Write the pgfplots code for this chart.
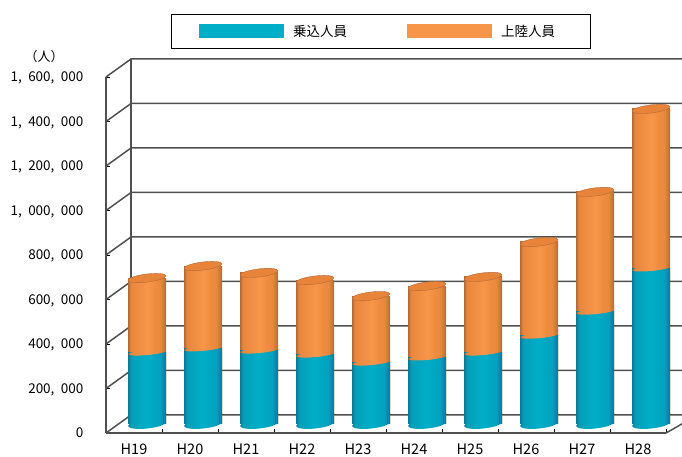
\documentclass[border=0pt]{standalone}
\usepackage{fontspec}
\setmainfont{Noto Sans CJK JP}
\usepackage{pgfplots}
\usepackage{pgfplotstable}
\pgfplotsset{compat=1.18}

\definecolor{teal1}{RGB}{0,174,200}
\definecolor{teal2}{RGB}{4,158,186}
\definecolor{teal3}{RGB}{10,120,145}
\definecolor{org1}{RGB}{247,150,72}
\definecolor{org2}{RGB}{232,135,62}
\definecolor{org3}{RGB}{180,105,55}
\definecolor{orgtop}{RGB}{232,132,58}
\definecolor{wall}{RGB}{80,80,80}

\pgfdeclarehorizontalshading{tealcyl}{100bp}{color(0bp)=(teal3); color(25bp)=(teal3); color(29bp)=(teal2); color(50bp)=(teal1); color(68bp)=(teal2); color(75bp)=(teal3); color(100bp)=(teal3)}
\pgfdeclarehorizontalshading{orgcyl}{100bp}{color(0bp)=(org3); color(25bp)=(org3); color(29bp)=(org2); color(50bp)=(org1); color(68bp)=(org2); color(75bp)=(org3); color(100bp)=(org3)}

\pgfplotstableread{
x teal orange
0.5 321000 335000
1.5 340000 370000
2.5 330000 349000
3.5 312000 335000
4.5 276000 299000
5.5 299000 321000
6.5 321000 340000
7.5 397000 421000
8.5 505000 538000
9.5 699000 717000
}\cruise

% tilted ellipses, rising to the right
\pgfdeclareplotmark{capteal}{\pgfpathellipse{\pgfpointorigin}{\pgfpoint{18.9pt}{2pt}}{\pgfpoint{-0.5pt}{4.5pt}}\pgfshadepath{tealcyl}{0}\pgfusepath{discard}}
\pgfdeclareplotmark{caporg}{\pgfpathellipse{\pgfpointorigin}{\pgfpoint{18.9pt}{1.7pt}}{\pgfpoint{-0.2pt}{2.5pt}}\pgfshadepath{orgcyl}{0}\pgfusepath{discard}}
\pgfdeclareplotmark{captop}{\pgfpathellipse{\pgfpointorigin}{\pgfpoint{18.9pt}{2.3pt}}{\pgfpoint{-0.5pt}{4pt}}\pgfsetfillcolor{orgtop}\pgfsetstrokecolor{org3}\pgfsetlinewidth{0.4pt}\pgfusepathqfillstroke}

\begin{document}
\begin{tikzpicture}[x=1pt,y=1pt]
\useasboundingbox (0,0) rectangle (682,457);
\clip (0,0) rectangle (682,457);

\begin{axis}[
  at={(106pt,24pt)}, anchor=origin,
  scale only axis, width=560pt, height=356pt,
  xmin=0, xmax=10, ymin=0, ymax=1600000,
  clip=false,
  axis lines=left, axis line style={-, wall, line width=1.5pt},
  tick style={black, line width=0.8pt}, major tick length=4pt,
  tick align=inside,
  xtick={0,...,10}, x tick label as interval,
  xticklabels={H19,H20,H21,H22,H23,H24,H25,H26,H27,H28},
  ytick={0,200000,...,1600000}, scaled y ticks=false,
  yticklabels={0,{200,\kern6.5pt000},{400,\kern6.5pt000},{600,\kern6.5pt000},{800,\kern6.5pt000},
    {1,\kern6.5pt000,\kern6.5pt000},{1,\kern6.5pt200,\kern6.5pt000},{1,\kern6.5pt400,\kern6.5pt000},{1,\kern6.5pt600,\kern6.5pt000}},
  y tick label style={font=\fontsize{13.5}{15}\selectfont, anchor=base east, xshift=-19pt, yshift=-5pt},
  x tick label style={font=\fontsize{14.5}{16}\selectfont, yshift=-7pt},
]
\addplot[wall, line width=1.5pt] coordinates {(0.4464,80899) (0.4464,1680899)};
\addplot[wall, line width=1.5pt] coordinates {(10,0) (10.3,43000)};
\addplot[wall, line width=1.5pt] coordinates {(0,0) (0.4464,80899) (10.3,80899)};
\addplot[wall, line width=1.5pt] coordinates {(0,200000) (0.4464,280899) (10.3,280899)};
\addplot[wall, line width=1.5pt] coordinates {(0,400000) (0.4464,480899) (10.3,480899)};
\addplot[wall, line width=1.5pt] coordinates {(0,600000) (0.4464,680899) (10.3,680899)};
\addplot[wall, line width=1.5pt] coordinates {(0,800000) (0.4464,880899) (10.3,880899)};
\addplot[wall, line width=1.5pt] coordinates {(0,1000000) (0.4464,1080899) (10.3,1080899)};
\addplot[wall, line width=1.5pt] coordinates {(0,1200000) (0.4464,1280899) (10.3,1280899)};
\addplot[wall, line width=1.5pt] coordinates {(0,1400000) (0.4464,1480899) (10.3,1480899)};
\addplot[wall, line width=1.5pt] coordinates {(0,1600000) (0.4464,1680899) (10.3,1680899)};
\node[font=\fontsize{13}{15}\selectfont] at (axis cs:-1.107,1690000) {（人）};
\end{axis}

\begin{axis}[
  at={(119pt,33pt)}, anchor=origin,
  scale only axis, width=560pt, height=356pt,
  xmin=0, xmax=10, ymin=0, ymax=1600000,
  clip=false, hide axis,
  legend style={at={(52pt,410pt)}, anchor=north west, draw=black, line width=0.8pt,
    legend columns=2, font=\fontsize{13.5}{15}\selectfont,
    inner xsep=28pt, inner ysep=8.5pt,
    /tikz/every even column/.style={column sep=58pt}},
  legend cell align=left,
]
\addlegendimage{legend image code/.code={\fill[teal1] (0pt,-6.5pt) rectangle (84pt,6.5pt); \path (91pt,0pt);}}
\addlegendentry{乗込人員}
\addlegendimage{legend image code/.code={\fill[org1] (0pt,-6.5pt) rectangle (84pt,6.5pt); \path (91pt,0pt);}}
\addlegendentry{上陸人員\hspace*{5pt}}
\pgfplotsinvokeforeach{0.5,1.5,...,9.5}{
  \addplot[forget plot, only marks, mark=capteal, x filter/.expression={abs(x-#1)<0.1 ? x : nan}]
    table[x=x, y expr=0] {\cruise};
  \addplot[forget plot, ybar, bar shift=0pt, bar width=38pt, draw=none, shading=orgcyl,
    x filter/.expression={abs(x-#1)<0.1 ? x : nan}]
    table[x=x, y expr=\thisrow{teal}+\thisrow{orange}] {\cruise};
  \addplot[forget plot, ybar, bar shift=0pt, bar width=38pt, draw=none, shading=tealcyl,
    x filter/.expression={abs(x-#1)<0.1 ? x : nan}]
    table[x=x, y=teal] {\cruise};
  \addplot[forget plot, only marks, mark=caporg, x filter/.expression={abs(x-#1)<0.1 ? x : nan}]
    table[x=x, y=teal] {\cruise};
  \addplot[forget plot, only marks, mark=captop, x filter/.expression={abs(x-#1)<0.1 ? x : nan}]
    table[x=x, y expr=\thisrow{teal}+\thisrow{orange}] {\cruise};
}
\end{axis}
\end{tikzpicture}
\end{document}
